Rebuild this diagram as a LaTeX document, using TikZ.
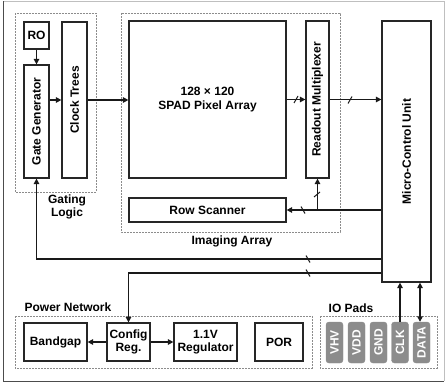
\documentclass[tikz,border=0pt]{standalone}
\usepackage{fontspec}
\setmainfont{Liberation Sans}
\usetikzlibrary{arrows.meta,calc}
\begin{document}
\begin{tikzpicture}[x=1pt,y=-1pt,
  font=\fontsize{12}{13.5}\selectfont\bfseries,
  box/.style={draw=black!85,line width=1.2pt,fill=white,inner sep=0pt,align=center},
  group/.style={draw=black!45,line width=0.7pt,dash pattern=on 2pt off 1pt},
  pad/.style={fill=black!45,draw=black!45,rounded corners=3pt,inner sep=0pt,minimum width=17pt,minimum height=41pt,text=white},
  arr/.style={line width=1.3pt,draw=black!90,-{Triangle[length=5.5pt,width=5.5pt]}},
  dbl/.style={line width=1.3pt,draw=black!90,{Triangle[length=5.5pt,width=5.5pt]}-{Triangle[length=5.5pt,width=5.5pt]}},
  ln/.style={line width=1.3pt,draw=black!90},
  tick/.style={line width=1pt,draw=black!90},
  lbl/.style={inner sep=0pt,align=center}
]
\useasboundingbox (0,0) rectangle (446,383);
% outer frame
\draw[black!25,line width=0.8pt] (3,1) -- (444,1) -- (444,381);
\draw[black!70,line width=1pt] (3,1) -- (3,381) -- (444,381);

% group boxes
\draw[group] (15,13) rectangle (96,192);
\draw[group] (121,13) rectangle (340,232);
\draw[group] (15,316) rectangle (312,368);
\draw[group] (320,316) rectangle (437,368);

\node[lbl] (glbl) at (67,207) {Gating\\Logic};
\node[lbl] (ilbl) at (232,241) {Imaging Array};
\node[lbl] (plbl) at (68,307) {Power Network};
\node[lbl] (iolbl) at (351,308) {IO Pads};

% blocks
\node[box,minimum width=25pt,minimum height=27pt] (ro) at (36.5,35.5) {RO};
\node[box,minimum width=25pt,minimum height=113pt] (gate) at (36.5,121.5) {};
\node[rotate=90,lbl] (gatet) at (gate.center) {Gate Generator};
\node[box,minimum width=25pt,minimum height=156pt] (clock) at (74.5,100) {};
\node[rotate=90,lbl] (clockt) at (clock.center) {Clock Trees};
\node[box,minimum width=157pt,minimum height=157pt] (spad) at (207.5,99.5) {128 × 120\\SPAD Pixel Array};
\node[box,minimum width=23pt,minimum height=157pt] (mux) at (317.5,99.5) {};
\node[rotate=90,lbl] (muxt) at (mux.center) {Readout Multiplexer};
\node[box,minimum width=157pt,minimum height=24pt] (row) at (207.5,210) {Row Scanner};
\node[box,minimum width=49pt,minimum height=261pt] (mcu) at (406.5,151.5) {};
\node[rotate=90,lbl] (mcut) at (mcu.center) {Micro-Control Unit};

\node[box,minimum width=63pt,minimum height=38pt] (bg) at (55.5,342) {Bandgap};
\node[box,minimum width=43pt,minimum height=38pt] (cfg) at (128.5,342) {Config\\Reg.};
\node[box,minimum width=63pt,minimum height=38pt] (reg) at (205.5,342) {1.1V\\Regulator};
\node[box,minimum width=48pt,minimum height=38pt] (por) at (279,342) {POR};

\node[pad] (vhv) at (334.5,342.5) {\rotatebox{90}{VHV}};
\node[pad] (vdd) at (356.5,342.5) {\rotatebox{90}{VDD}};
\node[pad] (gnd) at (378.5,342.5) {\rotatebox{90}{GND}};
\node[pad] (clk) at (400,342.5) {\rotatebox{90}{CLK}};
\node[pad] (data) at (421.5,342.5) {\rotatebox{90}{DATA}};

% connectors
\draw[arr] (ro.south) -- (gate.north);
\draw[arr] (gate.east |- clock.west) -- (clock.west);
\draw[arr] (clock.east) -- (clock.east -| spad.west);
\draw[arr] (spad.east |- mux.west) -- (mux.west);
\draw[tick] (294,103) -- (298,96);
\draw[arr] (mux.east) -- (mux.east -| mcu.west);
\draw[tick] (348,103.5) -- (352,96.5);

\coordinate (jr) at (mux.south |- row.east);
\draw[arr] (row.east -| mcu.west) -- (row.east);
\draw[tick] (301,206.5) -- (305,213.5);
\draw[arr] (jr) -- (mux.south);
\draw[tick] (314,197) -- (320,192);

\coordinate (g1) at (mcu.west |- 0,259);
\draw[arr] (g1) -| (gate.south);
\draw[tick] (306,255.5) -- (310,262.5);
\coordinate (c1) at (mcu.west |- 0,273);
\draw[arr] (c1) -| (cfg.north);
\draw[tick] (306,269.5) -- (310,276.5);

\draw[arr] (cfg.west) -- (bg.east);
\draw[arr] (cfg.east) -- (reg.west);

\draw[arr] (clk.north) -- (clk.north |- mcu.south);
\draw[dbl] ([xshift=-1.5pt]data.north) -- ([xshift=-1.5pt]data.north |- mcu.south);
\end{tikzpicture}
\end{document}
